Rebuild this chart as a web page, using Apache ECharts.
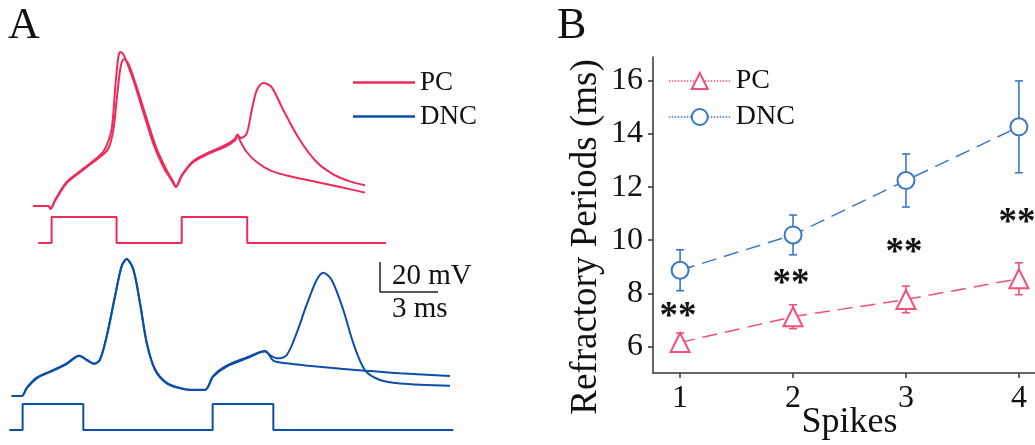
<!DOCTYPE html>
<html>
<head>
<meta charset="utf-8">
<script src="https://cdn.jsdelivr.net/npm/echarts@6/dist/echarts.min.js"></script>
<style>
  html, body { margin: 0; padding: 0; background: #fff; }
  #chart { width: 1035px; height: 445px; }
</style>
</head>
<body>
<div id="chart"></div>
<script>
// ---- panel A: membrane potential traces (t in ms, v in mV) ----
const pcTraceA = [[1.72,-65],[2.50,-65],[2.62,-66.8],[2.84,-61.2],[3.45,-49],[4.31,-40.1],[5.17,-31.2],[5.48,-25.7],[5.78,-13.4],[5.95,12.1],[6.12,34.3],[6.24,37.7],[6.41,35.4],[6.90,18.8],[7.41,-2.3],[7.93,-23.4],[8.45,-39],[8.88,-47.9],[9.10,-52.3],[9.40,-44.6],[10.0,-35],[10.86,-29],[11.72,-23.9],[12.16,-20.1],[12.28,-17.4],[12.45,-19.7],[12.76,-16.8],[13.02,-1.2],[13.28,12.1],[13.62,17],[14.05,14.3],[14.66,-1.2],[15.52,-21.2],[16.38,-35.7],[17.24,-43.9],[18.1,-48.6],[18.88,-51.2]]
const pcTraceB = [[1.72,-65],[2.50,-65],[2.62,-66.8],[2.84,-61.7],[3.45,-49.7],[4.31,-40.8],[5.17,-32.3],[5.60,-26.8],[5.86,-14.6],[6.07,9.9],[6.24,27.7],[6.41,32.8],[6.64,29.9],[7.07,14.3],[7.59,-6.8],[8.10,-26.8],[8.62,-41.2],[8.97,-49],[9.10,-52.3],[9.40,-45],[10.0,-35.7],[10.86,-29.7],[11.72,-25],[12.16,-21.2],[12.28,-17.9],[12.45,-22.3],[12.76,-29],[13.28,-35.7],[13.97,-41.2],[15.0,-45.2],[16.38,-49],[17.59,-52.3],[18.88,-56.1]]
const dncTraceA = [[0.60,-65],[1.12,-65],[1.38,-59.9],[1.90,-53.2],[2.76,-48.1],[3.45,-43.7],[4.10,-38.3],[4.48,-41],[4.86,-43.7],[5.17,-41],[5.52,-25.4],[5.95,1.2],[6.29,21.2],[6.55,26.1],[6.90,19],[7.24,-3.2],[7.59,-29.9],[8.02,-47.7],[8.62,-56.6],[9.31,-59.9],[9.83,-61],[10.6,-61],[11.03,-52.1],[11.72,-45.4],[12.76,-39.9],[13.71,-35.4],[13.97,-37.7],[14.31,-39.9],[14.83,-37.7],[15.34,-23.2],[15.86,-4.3],[16.38,12.3],[16.72,17.2],[17.16,12.3],[17.76,-7.7],[18.28,-29.9],[18.88,-47.7],[19.66,-54.3],[20.69,-56.6],[23.28,-58.1]]
const dncTraceB = [[0.60,-65],[1.12,-65],[1.38,-59.6],[1.90,-52.8],[2.76,-47.6],[3.45,-43.2],[4.10,-38],[4.48,-40.7],[4.86,-43.4],[5.17,-40.6],[5.52,-25],[5.95,1.8],[6.29,21.6],[6.55,26.4],[6.90,19.5],[7.24,-2.6],[7.59,-29.3],[8.02,-47.2],[8.62,-56.2],[9.31,-59.6],[9.83,-60.8],[10.6,-60.8],[11.03,-51.6],[11.72,-44.8],[12.76,-39.3],[13.71,-35],[14.14,-41.4],[14.83,-43.2],[16.38,-45.4],[18.88,-48.1],[20.69,-49.9],[23.28,-51.7]]
// current steps (0 = off, 1 = on)
const pcStim = [[1.98,0],[2.67,0],[2.67,1],[6.03,1],[6.03,0],[9.40,0],[9.40,1],[12.79,1],[12.79,0],[19.97,0]]
const dncStim = [[0.48,0],[1.17,0],[1.17,1],[4.31,1],[4.31,0],[11.0,0],[11.0,1],[14.14,1],[14.14,0],[23.45,0]]

// ---- panel B: refractory periods ----
const spikes = [1, 2, 3, 4]
const pcMean = [6.15, 7.12, 7.77, 8.55]
const pcErr = [0.35, 0.45, 0.5, 0.6]
const dncMean = [8.87, 10.2, 12.25, 14.27]
const dncErr = [0.77, 0.75, 1.0, 1.73]
const sigY = [7.4, 8.65, 9.8, 10.95]
const yTicks = [6, 8, 10, 12, 14, 16]

const RED = '#ee2a58'
const BLUE = '#0d4ea8'
const PC_B = '#f0507a'
const DNC_B = '#3a78c6'
const FONT = '"Liberation Serif", "Times New Roman", serif'

const chart = echarts.init(document.getElementById('chart'))

const xA = { min: 0, max: 26.9, show: false, type: 'value' }
const errBars = (mean, err, color) => ({
  type: 'custom',
  xAxisIndex: 4,
  yAxisIndex: 4,
  z: 1,
  silent: true,
  data: spikes.map((s, i) => [s, mean[i] - err[i], mean[i] + err[i]]),
  encode: { x: 0, y: [1, 2] },
  renderItem: (params, api) => {
    const lo = api.coord([api.value(0), api.value(1)])
    const hi = api.coord([api.value(0), api.value(2)])
    const st = { stroke: color, lineWidth: 1.6 }
    return {
      type: 'group',
      children: [
        { type: 'line', shape: { x1: lo[0], y1: lo[1], x2: hi[0], y2: hi[1] }, style: st },
        { type: 'line', shape: { x1: lo[0] - 4, y1: lo[1], x2: lo[0] + 4, y2: lo[1] }, style: st },
        { type: 'line', shape: { x1: hi[0] - 4, y1: hi[1], x2: hi[0] + 4, y2: hi[1] }, style: st }
      ]
    }
  }
})

chart.setOption({
  animation: false,
  backgroundColor: '#fff',
  textStyle: { fontFamily: FONT },
  grid: [
    { left: 0, width: 520, top: 48.5, height: 210, outerBoundsMode: 'none' },
    { left: 0, width: 520, top: 217, height: 26, outerBoundsMode: 'none' },
    { left: 0, width: 520, top: 238.5, height: 210, outerBoundsMode: 'none' },
    { left: 0, width: 520, top: 404, height: 26, outerBoundsMode: 'none' },
    { left: 653, width: 393, top: 57, height: 316, outerBoundsMode: 'none' }
  ],
  xAxis: [
    { ...xA, gridIndex: 0 },
    { ...xA, gridIndex: 1 },
    { ...xA, gridIndex: 2 },
    { ...xA, gridIndex: 3 },
    {
      gridIndex: 4,
      type: 'value',
      min: 0.76,
      max: 4.24,
      name: 'Spikes',
      nameLocation: 'middle',
      nameGap: 32,
      nameMoveOverlap: false,
      nameTextStyle: { fontSize: 36, color: '#111', fontFamily: FONT },
      axisLine: { lineStyle: { color: '#333', width: 1.5 } },
      axisTick: { customValues: spikes, length: 5, lineStyle: { color: '#333', width: 1.5 } },
      axisLabel: { customValues: spikes, margin: 10, fontSize: 32, color: '#111', fontFamily: FONT },
      splitLine: { show: false }
    }
  ],
  yAxis: [
    { gridIndex: 0, type: 'value', min: -100, max: 40, show: false },
    { gridIndex: 1, type: 'value', min: 0, max: 1, show: false },
    { gridIndex: 2, type: 'value', min: -100, max: 40, show: false },
    { gridIndex: 3, type: 'value', min: 0, max: 1, show: false },
    {
      gridIndex: 4,
      type: 'value',
      min: 5,
      max: 16.9,
      name: 'Refractory Periods (ms)',
      nameLocation: 'middle',
      nameGap: 48,
      nameMoveOverlap: false,
      nameTextStyle: { fontSize: 37, color: '#111', fontFamily: FONT, padding: [0, 44, 0, 0] },
      axisLine: { show: true, lineStyle: { color: '#333', width: 1.5 } },
      axisTick: { show: true, customValues: yTicks, length: 5, lineStyle: { color: '#333', width: 1.5 } },
      axisLabel: { customValues: yTicks, margin: 10, fontSize: 32, color: '#111', fontFamily: FONT },
      splitLine: { show: false }
    }
  ],
  legend: [
    {
      data: [{ name: 'PC trace', icon: 'rect' }, { name: 'DNC trace', icon: 'rect' }],
      orient: 'vertical',
      left: 348,
      top: 64,
      itemWidth: 62,
      itemHeight: 2.5,
      itemGap: 7,
      formatter: n => n.replace(' trace', ''),
      textStyle: { fontSize: 27, lineHeight: 27, color: '#111', fontFamily: FONT }
    },
    {
      data: ['PC', 'DNC'],
      orient: 'vertical',
      left: 663,
      top: 61,
      itemWidth: 62,
      itemHeight: 20,
      itemGap: 6,
      lineStyle: { type: 'dotted', width: 1.5 },
      textStyle: { fontSize: 28, lineHeight: 30, color: '#111', fontFamily: FONT }
    }
  ],
  graphic: [
    { type: 'text', left: 8, top: 4, style: { text: 'A', font: '44px ' + FONT, fill: '#111' } },
    { type: 'text', left: 557, top: 4, style: { text: 'B', font: '44px ' + FONT, fill: '#111' } },
    { type: 'text', left: 392, top: 262, style: { text: '20 mV', font: '29px ' + FONT, fill: '#111' } },
    { type: 'text', left: 392, top: 295, style: { text: '3 ms', font: '29px ' + FONT, fill: '#111' } }
  ],
  series: [
    { name: 'PC trace', type: 'line', xAxisIndex: 0, yAxisIndex: 0, data: pcTraceB, symbol: 'none', smooth: 0.3, clip: false, lineStyle: { color: RED, width: 2 }, itemStyle: { color: RED } },
    { name: 'PC trace', type: 'line', xAxisIndex: 0, yAxisIndex: 0, data: pcTraceA, symbol: 'none', smooth: 0.3, clip: false, lineStyle: { color: RED, width: 2 }, itemStyle: { color: RED } },
    { name: 'PC trace', type: 'line', xAxisIndex: 1, yAxisIndex: 1, data: pcStim, symbol: 'none', clip: false, lineStyle: { color: RED, width: 2 }, itemStyle: { color: RED } },
    { name: 'DNC trace', type: 'line', xAxisIndex: 2, yAxisIndex: 2, data: dncTraceB, symbol: 'none', smooth: 0.3, clip: false, lineStyle: { color: BLUE, width: 2 }, itemStyle: { color: BLUE } },
    { name: 'DNC trace', type: 'line', xAxisIndex: 2, yAxisIndex: 2, data: dncTraceA, symbol: 'none', smooth: 0.3, clip: false, lineStyle: { color: BLUE, width: 2 }, itemStyle: { color: BLUE } },
    { name: 'DNC trace', type: 'line', xAxisIndex: 3, yAxisIndex: 3, data: dncStim, symbol: 'none', clip: false, lineStyle: { color: BLUE, width: 2 }, itemStyle: { color: BLUE } },
    // scale bar: 3 ms x 20 mV, drawn in the DNC trace coordinates
    { name: 'scale', type: 'line', xAxisIndex: 2, yAxisIndex: 2, data: [[19.66, 24.3], [19.66, 4.3], [22.66, 4.3]], symbol: 'none', clip: false, lineStyle: { color: '#222', width: 1.5 } },

    errBars(pcMean, pcErr, PC_B),
    errBars(dncMean, dncErr, DNC_B),
    {
      name: 'PC', type: 'line', xAxisIndex: 4, yAxisIndex: 4, z: 3,
      data: spikes.map((s, i) => [s, pcMean[i]]),
      symbol: 'emptyTriangle', symbolSize: 19,
      lineStyle: { color: PC_B, width: 1.5, type: [15, 8] },
      itemStyle: { color: PC_B, borderWidth: 1.6 }
    },
    {
      name: 'DNC', type: 'line', xAxisIndex: 4, yAxisIndex: 4, z: 3,
      data: spikes.map((s, i) => [s, dncMean[i]]),
      symbol: 'emptyCircle', symbolSize: 17,
      lineStyle: { color: DNC_B, width: 1.5, type: [15, 8] },
      itemStyle: { color: DNC_B, borderWidth: 1.6 }
    },
    {
      name: 'sig', type: 'custom', xAxisIndex: 4, yAxisIndex: 4, z: 4, silent: true,
      data: spikes.map((s, i) => [s, sigY[i]]),
      renderItem: (params, api) => {
        const p = api.coord([api.value(0), api.value(1)])
        return {
          type: 'text',
          x: p[0] - 2,
          y: p[1] + 8,
          style: { text: '**', font: 'bold 37px ' + FONT, fill: '#111', align: 'center', verticalAlign: 'middle' }
        }
      }
    }
  ]
})
</script>
</body>
</html>
